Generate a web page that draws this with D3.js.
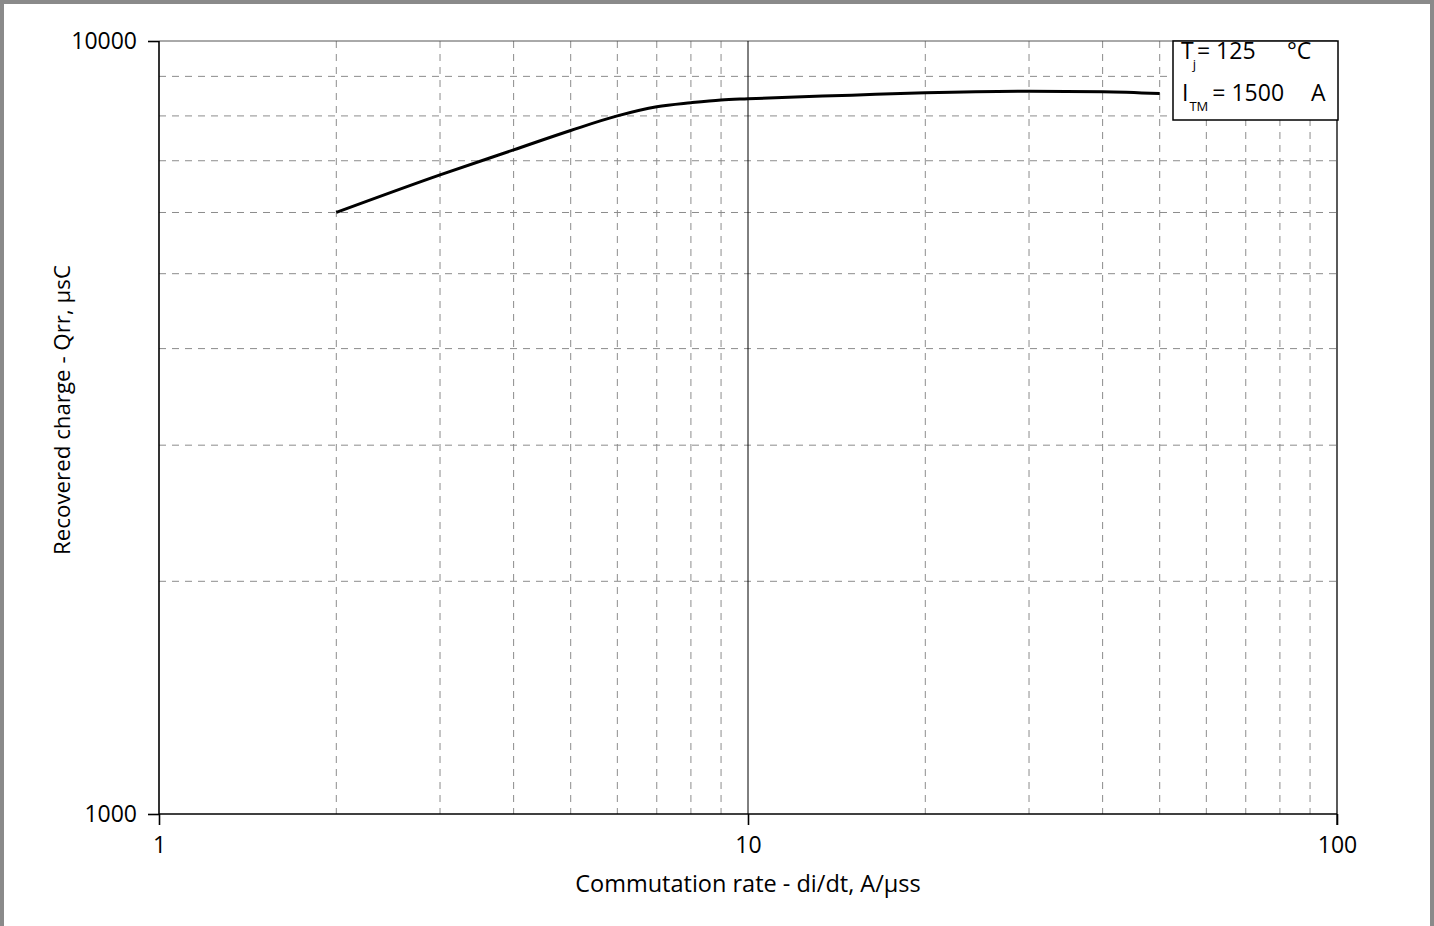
<!DOCTYPE html>
<html>
<head>
<meta charset="utf-8">
<script src="https://cdn.jsdelivr.net/npm/d3@7"></script>
<style>
  body { margin: 0; background: #fff; }
  svg { display: block; font-family: "Open Sans", sans-serif; }
</style>
</head>
<body>
<svg id="chart" width="1434" height="926"></svg>
<script>
// valores (di/dt en A/µs, Qrr en µC)
let diDt = [2, 3, 4, 5, 6, 7, 8, 9, 10, 15, 20, 30, 40, 50];
let qrr = [6000, 6710, 7230, 7660, 8000, 8220, 8320, 8390, 8420, 8510, 8570, 8610, 8600, 8550];

let xMajor = [1, 10, 100];
let xMinor = [2, 3, 4, 5, 6, 7, 8, 9, 20, 30, 40, 50, 60, 70, 80, 90];
let yMajor = [1000, 10000];
let yMinor = [2000, 3000, 4000, 5000, 6000, 7000, 8000, 9000];

let svg = d3.select("#chart");
let plotLeft = 159, plotRight = 1337, plotTop = 41, plotBottom = 814;

let x = d3.scaleLog().domain([1, 100]).range([plotLeft, plotRight]);
let y = d3.scaleLog().domain([1000, 10000]).range([plotBottom, plotTop]);

// marco gris de la imagen
svg.append("rect")
  .attr("x", 2).attr("y", 2)
  .attr("width", 1430).attr("height", 940)
  .attr("fill", "none")
  .attr("stroke", "#8a8a8a")
  .attr("stroke-width", 4);

// rejilla secundaria punteada
svg.append("g").selectAll("line")
  .data(xMinor)
  .enter()
  .append("line")
  .attr("x1", d => x(d)).attr("x2", d => x(d))
  .attr("y1", plotTop).attr("y2", plotBottom)
  .attr("stroke", "#8c8c8c")
  .attr("stroke-width", 1)
  .attr("stroke-dasharray", "7,6");

svg.append("g").selectAll("line")
  .data(yMinor)
  .enter()
  .append("line")
  .attr("x1", plotLeft).attr("x2", plotRight)
  .attr("y1", d => y(d)).attr("y2", d => y(d))
  .attr("stroke", "#8c8c8c")
  .attr("stroke-width", 1)
  .attr("stroke-dasharray", "7,6");

// líneas principales
svg.append("line")
  .attr("x1", plotLeft).attr("x2", plotRight)
  .attr("y1", y(10000)).attr("y2", y(10000))
  .attr("stroke", "#555").attr("stroke-width", 1);

svg.append("line")
  .attr("x1", x(10)).attr("x2", x(10))
  .attr("y1", plotTop).attr("y2", plotBottom)
  .attr("stroke", "#000").attr("stroke-width", 1);

svg.append("line")
  .attr("x1", x(100)).attr("x2", x(100))
  .attr("y1", plotTop).attr("y2", plotBottom + 11)
  .attr("stroke", "#000").attr("stroke-width", 1.3);

// ejes con d3
let xAxis = d3.axisBottom(x)
  .tickValues(xMajor)
  .tickFormat(d3.format("d"))
  .tickSize(11)
  .tickPadding(12);

let yAxis = d3.axisLeft(y)
  .tickValues(yMajor)
  .tickFormat(d3.format("d"))
  .tickSize(11)
  .tickPadding(11);

let gx = svg.append("g")
  .attr("transform", `translate(0,${plotBottom})`)
  .call(xAxis);

let gy = svg.append("g")
  .attr("transform", `translate(${plotLeft},0)`)
  .call(yAxis);

[gx, gy].forEach(g => {
  g.select(".domain").attr("stroke", "#000").attr("stroke-width", 1.6);
  g.selectAll(".tick line").attr("stroke", "#000").attr("stroke-width", 1.6);
  g.selectAll(".tick text")
    .attr("fill", "#000")
    .style("font-family", "Open Sans, sans-serif")
    .style("font-size", "23px");
});
gx.select(".domain").attr("d", `M${plotLeft},0H${plotRight}`);
gy.select(".domain").attr("d", `M0,${plotBottom}V${plotTop}`);

// curva Qrr
let line = d3.line()
  .x(d => x(d[0]))
  .y(d => y(d[1]))
  .curve(d3.curveMonotoneX);

svg.append("path")
  .datum(diDt.map((d, i) => [d, qrr[i]]))
  .attr("d", line)
  .attr("fill", "none")
  .attr("stroke", "#000")
  .attr("stroke-width", 3);

// títulos de los ejes
svg.append("text")
  .attr("x", 748).attr("y", 892)
  .attr("text-anchor", "middle")
  .style("font-size", "23.5px")
  .text("Commutation rate - di/dt, A/µss");

svg.append("text")
  .attr("transform", "translate(70,410) rotate(-90)")
  .attr("text-anchor", "middle")
  .style("font-size", "22.3px")
  .text("Recovered charge - Qrr, µsC");

// recuadro de condiciones
svg.append("rect")
  .attr("x", 1173).attr("y", 41)
  .attr("width", 165).attr("height", 79)
  .attr("fill", "#fff")
  .attr("stroke", "#000")
  .attr("stroke-width", 1.5);

let t1 = svg.append("text").attr("x", 1181).attr("y", 59).style("font-size", "23px");
t1.append("tspan").text("T");
t1.append("tspan").attr("dx", -1).attr("dy", 10).style("font-size", "13px").text("j");
t1.append("tspan").attr("dx", 1).attr("dy", -10).text("= 125");
svg.append("text").attr("x", 1287).attr("y", 59).style("font-size", "23px").text("°C");

let t2 = svg.append("text").attr("x", 1182).attr("y", 101).style("font-size", "23px");
t2.append("tspan").text("I");
t2.append("tspan").attr("dx", 1).attr("dy", 10).style("font-size", "13px").text("TM");
t2.append("tspan").attr("dx", 4).attr("dy", -10).text("= 1500");
svg.append("text").attr("x", 1311).attr("y", 101).style("font-size", "23px").text("A");
</script>
</body>
</html>
